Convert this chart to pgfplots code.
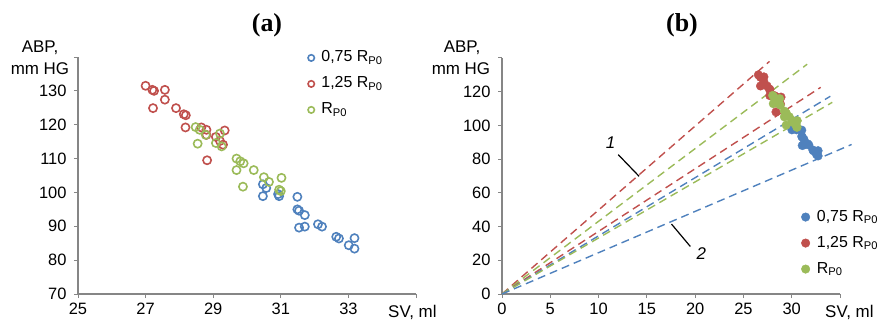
\documentclass[border=0pt]{standalone}
\usepackage{pgfplots}
\pgfplotsset{compat=1.18}
\usepackage{fontspec}
\setmainfont{Liberation Sans}
\newfontfamily\titlefont{Liberation Serif}
\definecolor{cblue}{HTML}{4F81BD}
\definecolor{cred}{HTML}{C0504D}
\definecolor{cgreen}{HTML}{9BBB59}
\definecolor{axgray}{HTML}{868686}
\newcommand{\lf}{\fontsize{17}{20}\selectfont}
\newcommand{\tf}{\fontsize{16.5}{19}\selectfont}
\newcommand{\gf}{\fontsize{16}{19}\selectfont}
\pgfplotsset{
  base/.style={
    scale only axis,
    anchor=south west,
    axis lines*=left,
    axis line style={axgray, line width=1.3bp},
    tick align=outside,
    major tick length=4bp,
    tick style={axgray, line width=1bp},
    minor tick num=0,
    ticklabel style={font=\tf, text=black},
    yticklabel style={xshift=-4bp},
    xticklabel style={yshift=-2bp},
    /pgf/number format/assume math mode=true,
    clip=false,
    legend cell align=left,
    legend image code/.code={\draw[##1] plot coordinates {(0bp,0bp)};},
    legend style={draw=none, fill=none, font=\gf, inner sep=0pt,
      nodes={inner sep=1bp, text height=12bp, text depth=4bp},
      row sep=8bp, column sep=6bp},
  },
  dl/.style={dash pattern=on 8bp off 5bp, line width=1.4bp},
}
\begin{document}
\begin{tikzpicture}
\path[use as bounding box] (0,0) rectangle (879bp,322bp);
% ---------- (a) ----------
\begin{axis}[base,
  at={(78bp,28bp)}, width=338bp, height=237bp,
  xmin=25, xmax=35, ymin=70, ymax=140,
  xtick={25,27,29,31,33,35}, xticklabels={25,27,29,31,33,{}},
  ytick={70,80,90,100,110,120,130,140}, yticklabels={70,80,90,100,110,120,130,{}},
  legend image code/.code={\draw[#1, mark size=3.2bp] plot coordinates {(0bp,0bp)};},
  legend style={at={(0.68,1.035)}, anchor=north west},
]
\addplot[only marks, mark=o, mark size=4.1bp, cblue, line width=1.6bp] table {
x y
30.47 102.4
30.57 101.3
30.47 98.9
30.95 98.9
30.92 99.5
31.49 98.7
31.49 95.0
31.54 94.6
31.71 93.3
31.54 89.6
31.71 89.9
32.10 90.6
32.22 89.9
32.64 86.9
32.72 86.4
33.18 86.5
33.01 84.4
33.18 83.4
};
\addlegendentry{0,75 R\textsubscript{P0}}
\addplot[only marks, mark=o, mark size=4.1bp, cred, line width=1.6bp] table {
x y
27.00 131.5
27.20 130.3
27.25 130.0
27.57 130.3
27.57 127.4
27.22 124.9
27.90 124.9
28.13 123.1
28.19 122.8
28.18 119.2
28.65 119.2
28.80 118.5
28.80 117.0
29.08 116.4
29.34 118.3
29.29 114.1
29.20 115.2
28.82 109.5
};
\addlegendentry{1,25 R\textsubscript{P0}}
\addplot[only marks, mark=o, mark size=4.1bp, cgreen, line width=1.6bp] table {
x y
28.48 119.3
28.60 118.5
28.78 117.0
28.54 114.4
29.08 114.6
29.20 117.4
29.25 113.6
29.69 110.0
29.80 109.2
29.90 108.6
29.69 106.6
30.20 106.6
29.88 101.7
30.50 104.5
30.65 103.1
31.02 104.3
30.95 100.8
31.00 100.4
};
\addlegendentry{R\textsubscript{P0}}
\end{axis}
% ---------- (b) ----------
\begin{axis}[base,
  at={(502bp,28bp)}, width=338bp, height=236bp,
  xmin=0, xmax=35, ymin=0, ymax=140,
  xtick={0,5,10,15,20,25,30,35}, xticklabels={0,5,10,15,20,25,30,{}},
  ytick={0,20,40,60,80,100,120,140}, yticklabels={0,20,40,60,80,100,120,{}},
  legend style={at={(0.885,0.365)}, anchor=north west},
]
\addplot[only marks, mark=*, mark size=4.3bp, cblue, mark options={draw=cblue, fill=cblue}] table {
x y
30.02 100.9
30.12 99.8
30.02 97.4
30.50 97.4
30.47 98.0
31.04 97.2
31.04 93.5
31.09 93.1
31.26 91.8
31.09 88.1
31.26 88.4
31.65 89.1
31.77 88.4
32.19 85.4
32.27 84.9
32.73 85.0
32.56 82.9
32.73 81.9
};
\addlegendentry{0,75 R\textsubscript{P0}}
\addplot[only marks, mark=*, mark size=4.3bp, cred, mark options={draw=cred, fill=cred}] table {
x y
26.55 130.0
26.75 128.8
26.80 128.5
27.12 128.8
27.12 125.9
26.77 123.4
27.45 123.4
27.68 121.6
27.74 121.3
27.73 117.7
28.20 117.7
28.35 117.0
28.35 115.5
28.63 114.9
28.89 116.8
28.84 112.6
28.75 113.7
28.37 108.0
};
\addlegendentry{1,25 R\textsubscript{P0}}
\addplot[only marks, mark=*, mark size=4.3bp, cgreen, mark options={draw=cgreen, fill=cgreen}] table {
x y
28.03 117.8
28.15 117.0
28.33 115.5
28.09 112.9
28.63 113.1
28.75 115.9
28.80 112.1
29.24 108.5
29.35 107.7
29.45 107.1
29.24 105.1
29.75 105.1
29.43 100.2
30.05 103.0
30.20 101.6
30.57 102.8
30.50 99.3
30.55 98.9
};
\addlegendentry{R\textsubscript{P0}}
\addplot[cred, dl, forget plot] coordinates {(0,0) (27.7,138.0)};
\addplot[cgreen, dl, forget plot] coordinates {(0,0) (31.6,136.3)};
\addplot[cred, dl, forget plot] coordinates {(0,0) (33.0,122.6)};
\addplot[cblue, dl, forget plot] coordinates {(0,0) (34.0,117.3)};
\addplot[cgreen, dl, forget plot] coordinates {(0,0) (34.2,113.7)};
\addplot[cblue, dl, forget plot] coordinates {(0,0) (36.2,88.7)};
\draw[black, line width=1.2bp] (axis cs:12.03,82.7) -- (axis cs:14.2,69.8);
\draw[black, line width=1.2bp] (axis cs:17.55,41.5) -- (axis cs:19.5,28.2);
\node[font=\lf\itshape] at (axis cs:11.24,89.7) {1};
\node[font=\lf\itshape] at (axis cs:20.65,23.8) {2};
\end{axis}
% ---------- titles and axis names ----------
\node[font=\titlefont\bfseries\fontsize{26}{30}\selectfont] at (267bp,297bp) {(a)};
\node[font=\titlefont\bfseries\fontsize{26}{30}\selectfont] at (682bp,297bp) {(b)};
\node[font=\lf] at (40bp,274bp) {ABP,};
\node[font=\lf] at (40bp,253bp) {mm HG};
\node[font=\lf] at (462bp,274bp) {ABP,};
\node[font=\lf] at (461bp,253bp) {mm HG};
\node[font=\lf, anchor=base west, inner sep=0pt] at (388bp,5bp) {SV, ml};
\node[font=\lf, anchor=base west, inner sep=0pt] at (825bp,5bp) {SV, ml};
\end{tikzpicture}
\end{document}
